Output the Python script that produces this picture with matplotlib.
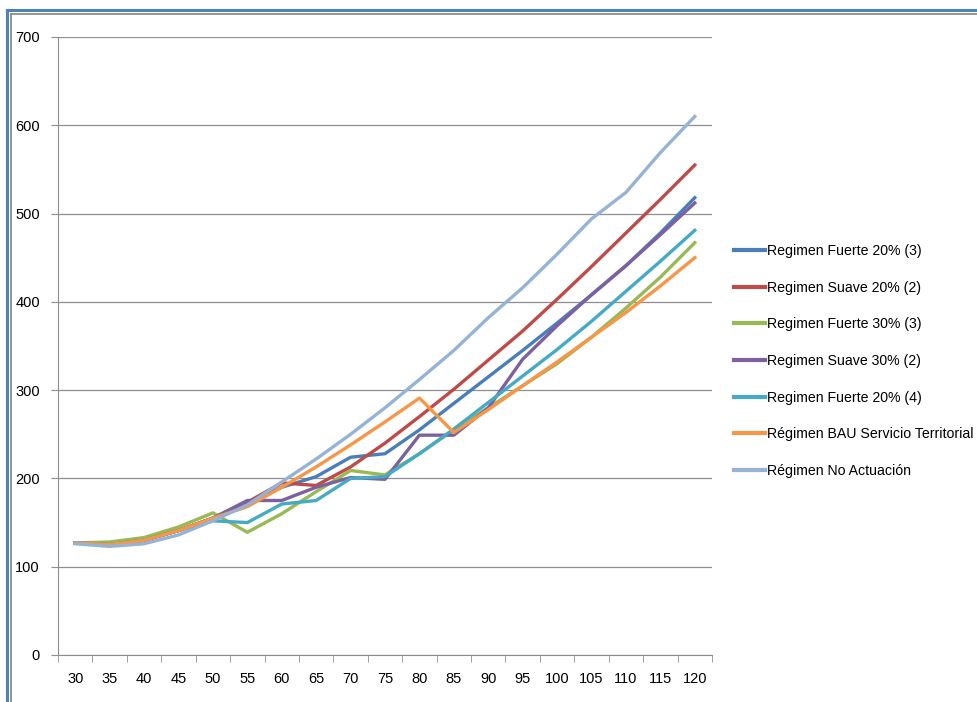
import numpy as np
import matplotlib
matplotlib.use("Agg")
import matplotlib.pyplot as plt
from matplotlib.lines import Line2D

plt.rcParams["font.family"] = ["Liberation Sans", "DejaVu Sans"]

ages = [30, 35, 40, 45, 50, 55, 60, 65, 70, 75, 80, 85, 90, 95, 100, 105, 110, 115, 120]

fuerte20_3 = [127, 125, 130, 141, 155, 172, 190, 202, 224, 228, 255, 285, 315, 345, 376, 408, 441, 478, 518]
suave20_2 = [127, 125, 130, 141, 155, 173, 195, 192, 213, 240, 270, 301, 334, 367, 403, 440, 478, 516, 555]
fuerte30_3 = [127, 128, 133, 145, 161, 139, 160, 185, 209, 204, 228, 255, 280, 305, 330, 360, 393, 428, 467]
suave30_2 = [127, 125, 130, 141, 155, 175, 175, 190, 201, 199, 249, 249, 280, 335, 373, 408, 441, 476, 512]
fuerte20_4 = [127, 125, 130, 141, 152, 150, 171, 175, 200, 202, 228, 256, 286, 316, 346, 378, 412, 446, 481]
bau = [127, 125, 130, 141, 155, 168, 190, 213, 238, 264, 291, 252, 278, 305, 332, 360, 388, 418, 450]
no_actuacion = [126, 123, 126, 136, 152, 170, 196, 222, 250, 280, 312, 345, 382, 416, 454, 494, 524, 569, 610]

labels = [
    "Regimen Fuerte 20% (3)",
    "Regimen Suave 20% (2)",
    "Regimen Fuerte 30% (3)",
    "Regimen Suave 30% (2)",
    "Regimen Fuerte 20% (4)",
    "Régimen BAU Servicio Territorial",
    "Régimen No Actuación",
]
series = [fuerte20_3, suave20_2, fuerte30_3, suave30_2, fuerte20_4, bau, no_actuacion]
colors = ["#4A7EBB", "#BE4B48", "#98B954", "#7D60A0", "#46AAC5", "#F79646", "#95B3D7"]

fig = plt.figure(figsize=(9.78, 7.02), dpi=100)
ax = fig.add_axes([58 / 978, 47 / 702, 654 / 978, 618 / 702])

x = np.arange(len(ages))
for values, label, color in zip(series, labels, colors):
    ax.plot(x, values, color=color, lw=2.4, label=label, solid_joinstyle="round")

grid_color = "#8E8E8E"
ax.set_xlim(-0.5, len(ages) - 0.5)
ax.set_ylim(0, 700)
ax.set_yticks(range(0, 701, 100))
ax.yaxis.grid(True, color=grid_color, lw=0.9)
ax.set_axisbelow(True)
ax.set_xticks(x)
ax.set_xticklabels([str(a) for a in ages])
ax.set_xticks(np.arange(-0.5, len(ages)), minor=True)
ax.tick_params(axis="x", which="major", length=0, pad=12, labelsize=10.5)
ax.tick_params(axis="x", which="minor", length=5, color=grid_color)
ax.tick_params(axis="y", length=5, color=grid_color, labelsize=10.5, pad=8)
for side in ("top", "right"):
    ax.spines[side].set_visible(False)
for side in ("left", "bottom"):
    ax.spines[side].set_color(grid_color)

handles = [Line2D([], [], color=c, lw=3) for c in colors]
fig.legend(handles, labels, loc="upper left", bbox_to_anchor=(734 / 978, 1 - 244 / 702),
           frameon=False, fontsize=10.2, handlelength=2.2, handletextpad=0.15,
           labelspacing=1.6, borderaxespad=0, borderpad=0)

# outer frame (blue with grey inner line)
for xpos, ypos, color, lw in [(7 / 978, 10 / 702, "#4F81BD", 2.2), (11 / 978, 14 / 702, "#8C8C8C", 1.3)]:
    fig.add_artist(Line2D([xpos, xpos], [0, 1 - ypos], color=color, lw=lw, transform=fig.transFigure))
    fig.add_artist(Line2D([xpos, 1], [1 - ypos, 1 - ypos], color=color, lw=lw, transform=fig.transFigure))

fig.savefig("out.png", dpi=100)
